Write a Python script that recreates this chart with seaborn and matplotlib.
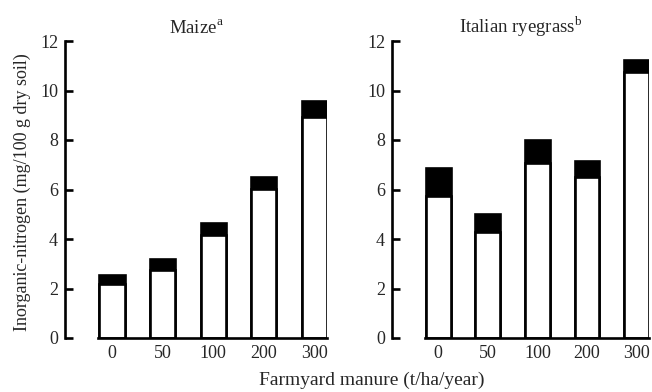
import matplotlib
matplotlib.use("Agg")
import matplotlib.pyplot as plt
import seaborn as sns
import pandas as pd

sns.set_theme(style="white")
plt.rcParams['font.family'] = ['Liberation Serif', 'DejaVu Serif']
plt.rcParams['mathtext.fontset'] = 'custom'
plt.rcParams['mathtext.rm'] = 'Liberation Serif'

doses = ["0", "50", "100", "200", "300"]
maize_white = [2.2, 2.73, 4.16, 6.04, 8.93]
maize_total = [2.54, 3.19, 4.65, 6.5, 9.58]
rye_white = [5.75, 4.3, 7.07, 6.49, 10.73]
rye_total = [6.87, 5.02, 8.0, 7.17, 11.22]
yticks = [0, 2, 4, 6, 8, 10, 12]

W, H = 652, 392
fig = plt.figure(figsize=(W / 100, H / 100), dpi=100)
y0, y1 = 338, 41
axL = fig.add_axes([65 / W, (H - y0) / H, (327 - 65) / W, (y0 - y1) / H])
axR = fig.add_axes([392 / W, (H - y0) / H, (649 - 392) / W, (y0 - y1) / H])

lw = 1.9
for ax, white, total, title in [
    (axL, maize_white, maize_total, r"Maize$^{\mathrm{a}}$"),
    (axR, rye_white, rye_total, r"Italian ryegrass$^{\mathrm{b}}$"),
]:
    df = pd.DataFrame({"dose": doses, "white": white, "total": total})
    sns.barplot(data=df, x="dose", y="total", order=doses, color="black",
                saturation=1, width=0.5, edgecolor="black", linewidth=lw, ax=ax)
    sns.barplot(data=df, x="dose", y="white", order=doses, color="white",
                saturation=1, width=0.5, edgecolor="black", linewidth=lw, ax=ax)
    ax.set_xlim(-0.93, 4.25)
    ax.set_ylim(0, 12)
    ax.set_yticks(yticks)
    ax.set_yticklabels([str(v) for v in yticks])
    ax.set_xlabel("")
    ax.set_ylabel("")
    for s in ["top", "right"]:
        ax.spines[s].set_visible(False)
    ax.spines["left"].set_linewidth(lw)
    ax.spines["left"].set_color("black")
    ax.spines["bottom"].set_linewidth(lw)
    ax.spines["bottom"].set_color("black")
    ax.spines["bottom"].set_bounds(-0.27, 4.25)
    ax.tick_params(axis="y", direction="in", length=6, width=lw, color="black",
                   labelsize=13, pad=5, left=True)
    ax.tick_params(axis="x", length=0, labelsize=13, pad=5)
    ax.set_title(title, fontsize=13.5, pad=6)
    ax.set_facecolor("white")

fig.text(22 / W, 1 - 192 / H, "Inorganic-nitrogen (mg/100 g dry soil)",
         rotation=90, ha="center", va="center", fontsize=13)
fig.text(372 / W, 1 - 380 / H, "Farmyard manure (t/ha/year)",
         ha="center", va="center", fontsize=14)

fig.savefig("out.png", dpi=100, facecolor="white")
